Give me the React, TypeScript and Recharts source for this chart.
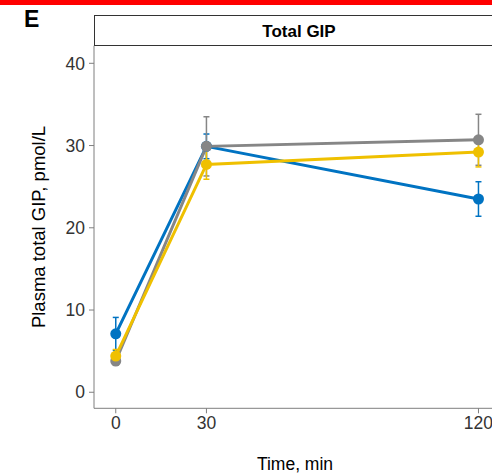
import React from "react";
import { LineChart, Line, XAxis, YAxis, ErrorBar } from "recharts";

const times = [0, 30, 120];
const xTicks = [0, 30, 120];
const yTicks = [0, 10, 20, 30, 40];

const blueValues = [7.1, 29.9, 23.5];
const blueErrors = [2.0, 1.5, 2.1];
const grayValues = [3.8, 29.9, 30.7];
const grayErrors = [0.5, 3.6, 3.1];
const yellowValues = [4.4, 27.7, 29.2];
const yellowErrors = [0.8, 1.8, 1.8];

const panelLetter = "E";
const stripTitle = "Total GIP";
const yLabel = "Plasma total GIP, pmol/L";
const xLabel = "Time, min";

const data = times.map((t, i) => ({
  time: t,
  blue: blueValues[i],
  blueErr: blueErrors[i],
  gray: grayValues[i],
  grayErr: grayErrors[i],
  yellow: yellowValues[i],
  yellowErr: yellowErrors[i],
}));

const FONT = "'Liberation Sans', Arial, Helvetica, sans-serif";
const BLUE = "#0073C2";
const GRAY = "#868686";
const YELLOW = "#EFC000";
const AXIS = "#7f7f7f";

export default function App() {
  const W = 520;
  const H = 476;
  const plotLeft = 94;
  const plotRight = 496;
  const plotTop = 45.7;
  const plotBottom = 408.3;
  const yAxisW = 60;
  return (
    <div
      style={{
        position: "absolute",
        left: 0,
        top: 0,
        width: 492,
        height: 476,
        overflow: "hidden",
        background: "#fff",
      }}
    >
      <div style={{ position: "absolute", left: 0, top: 0 }}>
        <LineChart
          width={W}
          height={H}
          data={data}
          margin={{
            top: plotTop,
            bottom: 0,
            left: plotLeft - yAxisW,
            right: W - plotRight,
          }}
        >
          <XAxis
            dataKey="time"
            type="number"
            domain={[-7.2, 125.8]}
            ticks={xTicks}
            height={H - plotBottom}
            tickSize={5}
            tickMargin={3}
            axisLine={{ stroke: AXIS, strokeWidth: 1 }}
            tickLine={{ stroke: AXIS, strokeWidth: 1 }}
            tick={{ fill: "#333", fontSize: 17.5, fontFamily: FONT }}
            allowDataOverflow
            interval={0}
          />
          <YAxis
            type="number"
            domain={[-1.95, 42.14]}
            ticks={yTicks}
            width={yAxisW}
            tickSize={5}
            tickMargin={4}
            axisLine={{ stroke: AXIS, strokeWidth: 1 }}
            tickLine={{ stroke: AXIS, strokeWidth: 1 }}
            tick={{ fill: "#333", fontSize: 17.5, fontFamily: FONT }}
            allowDataOverflow
            interval={0}
          />
          <Line
            dataKey="blue"
            stroke={BLUE}
            strokeWidth={3}
            dot={{ r: 5.5, fill: BLUE, stroke: BLUE, strokeWidth: 0 }}
            activeDot={false}
            isAnimationActive={false}
          >
            <ErrorBar dataKey="blueErr" width={3} stroke={BLUE} strokeWidth={1.5} direction="y" />
          </Line>
          <Line
            dataKey="gray"
            stroke={GRAY}
            strokeWidth={3}
            dot={{ r: 5.5, fill: GRAY, stroke: GRAY, strokeWidth: 0 }}
            activeDot={false}
            isAnimationActive={false}
          >
            <ErrorBar dataKey="grayErr" width={3} stroke={GRAY} strokeWidth={1.5} direction="y" />
          </Line>
          <Line
            dataKey="yellow"
            stroke={YELLOW}
            strokeWidth={3}
            dot={{ r: 5.5, fill: YELLOW, stroke: YELLOW, strokeWidth: 0 }}
            activeDot={false}
            isAnimationActive={false}
          >
            <ErrorBar dataKey="yellowErr" width={3} stroke={YELLOW} strokeWidth={1.5} direction="y" />
          </Line>
        </LineChart>
      </div>
      <svg
        width={492}
        height={476}
        style={{ position: "absolute", left: 0, top: 0, pointerEvents: "none" }}
      >
        <rect x={0} y={0} width={492} height={5} fill="#ff0000" />
        <text
          x={24}
          y={27}
          fontFamily={FONT}
          fontWeight="bold"
          fontSize={23}
          fill="#000"
        >
          {panelLetter}
        </text>
        <rect
          x={94.5}
          y={15.5}
          width={420}
          height={30}
          fill="#fff"
          stroke="#333"
          strokeWidth={1}
        />
        <text
          x={299}
          y={37}
          textAnchor="middle"
          fontFamily={FONT}
          fontWeight="bold"
          fontSize={17}
          fill="#000"
        >
          {stripTitle}
        </text>
        <text
          transform={`translate(45, ${(plotTop + plotBottom) / 2}) rotate(-90)`}
          textAnchor="middle"
          fontFamily={FONT}
          fontSize={18.5}
          fill="#000"
        >
          {yLabel}
        </text>
        <text
          x={295}
          y={470}
          textAnchor="middle"
          fontFamily={FONT}
          fontSize={17.5}
          fill="#000"
        >
          {xLabel}
        </text>
      </svg>
    </div>
  );
}
